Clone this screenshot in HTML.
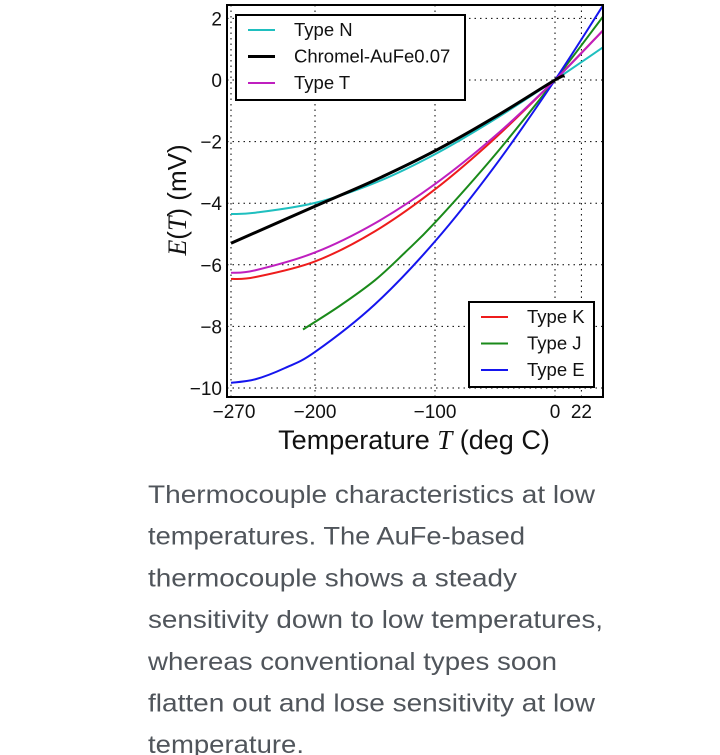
<!DOCTYPE html>
<html><head><meta charset="utf-8"><style>
body{margin:0;background:#fff;width:720px;height:755px;overflow:hidden}
svg{display:block}
text{font-family:"Liberation Sans","DejaVu Sans",sans-serif}
</style></head><body>
<svg id="chart" width="720" height="755" viewBox="0 0 720 755"></svg>
<script>
const xTicks=[-270,-200,-100,0,22];
const xTickLabels=["\u2212270","\u2212200","\u2212100","0","22"];
const yTicks=[2,0,-2,-4,-6,-8,-10];
const yTickLabels=["2","0","\u22122","\u22124","\u22126","\u22128","\u221210"];
const seriesNames=["Type N","Chromel-AuFe0.07","Type T","Type K","Type J","Type E"];
const seriesColors=["#1fbfbf","#000000","#bf1fbf","#ee1c1c","#1a8a1a","#1515ee"];
const tN=[-270,-250,-200,-150,-100,-50,0,40];
const eN=[-4.35,-4.31,-3.99,-3.34,-2.41,-1.27,0,1.06];
const tAu=[-270,-200,-150,-100,-50,0,8];
const eAu=[-5.3,-4.1,-3.25,-2.3,-1.2,0,0.13];
const tT=[-270,-250,-200,-150,-100,-50,0,40];
const eT=[-6.26,-6.18,-5.6,-4.65,-3.38,-1.82,0,1.61];
const tK=[-270,-250,-200,-150,-100,-50,0,40];
const eK=[-6.46,-6.40,-5.89,-4.91,-3.55,-1.89,0,1.61];
const tJ=[-210,-180,-150,-125,-100,-50,0,40];
const eJ=[-8.1,-7.35,-6.5,-5.6,-4.63,-2.43,0,2.06];
const tE=[-270,-250,-225,-200,-150,-100,-50,0,40];
const eE=[-9.83,-9.72,-9.35,-8.83,-7.28,-5.24,-2.79,0,2.42];
const seriesT=[tN,tAu,tT,tK,tJ,tE];
const seriesE=[eN,eAu,eT,eK,eJ,eE];

const svg=document.getElementById('chart');
const NS='http://www.w3.org/2000/svg';
const L=227,R=603,T=5,B=397;
const xs=t=>555+t*1.2;
const ys=e=>80-e*30.8;
function mk(tag,attrs,parent){const el=document.createElementNS(NS,tag);for(const k in attrs)el.setAttribute(k,attrs[k]);(parent||svg).appendChild(el);return el;}
xTicks.forEach((t,i)=>{
 const g=mk('line',{x1:xs(t),x2:xs(t),y1:T,y2:B,stroke:'#000','stroke-width':1,'stroke-dasharray':'1.5,4'});
 
 
 const tk=mk('text',{x:xs(t)+(i==0?3:0),y:B+21,'font-size':19,'text-anchor':'middle',fill:'#111'});
 tk.textContent=xTickLabels[i];
 
 
});
yTicks.forEach((e,i)=>{
 const g=mk('line',{x1:L,x2:R,y1:ys(e),y2:ys(e),stroke:'#000','stroke-width':1,'stroke-dasharray':'1.5,4'});
 
 
 const tk=mk('text',{x:L-5,y:ys(e)+7,'font-size':19,'text-anchor':'end',fill:'#111'});
 tk.textContent=yTickLabels[i];
 
 
});
function path(ts,es){
 const p=ts.map((t,i)=>[xs(t),ys(es[i])]);
 let d='M'+p[0][0]+','+p[0][1];
 for(let i=0;i<p.length-1;i++){
  const p0=p[Math.max(0,i-1)],p1=p[i],p2=p[i+1],p3=p[Math.min(p.length-1,i+2)];
  const c1=[p1[0]+(p2[0]-p0[0])/6,p1[1]+(p2[1]-p0[1])/6];
  const c2=[p2[0]-(p3[0]-p1[0])/6,p2[1]-(p3[1]-p1[1])/6];
  d+=' C'+c1+' '+c2+' '+p2;
 }
 return d;
}
const clip=mk('clipPath',{id:'pc'});mk('rect',{x:L,y:T,width:R-L,height:B-T},clip);
const order=[3,4,5,0,2,1];
order.forEach(i=>{
 const pth=mk('path',{d:path(seriesT[i],seriesE[i]),fill:'none',stroke:seriesColors[i],'stroke-width':i==1?3:2,'clip-path':'url(#pc)'});
 
 
});
const frame=mk('rect',{x:L,y:T,width:R-L,height:B-T,fill:'none',stroke:'#000','stroke-width':2});


function legend(x,y,w,h,idx,name){
 const g=mk('g',{});
 
 
 mk('rect',{x:x,y:y,width:w,height:h,fill:'#fff',stroke:'#000','stroke-width':2},g);
 idx.forEach((s,k)=>{
  const cy=y+15+k*26.5;
  mk('line',{x1:x+12,x2:x+39,y1:cy,y2:cy,stroke:seriesColors[s],'stroke-width':s==1?3:2},g);
  const tx=mk('text',{x:x+58,y:cy+6,'font-size':18.5,fill:'#111'},g);
  tx.textContent=seriesNames[s];
  
  
 });
}
legend(236,15,229,85,[0,1,2],'legend-top');
legend(469,302,125,85,[3,4,5],'legend-bottom');
const xl=mk('text',{x:414,y:449,'font-size':27,'text-anchor':'middle',fill:'#111'});
xl.innerHTML='Temperature <tspan font-family="Liberation Serif" font-style="italic">T</tspan> (deg C)';


const yl=mk('text',{x:0,y:0,'font-size':26,'text-anchor':'middle',fill:'#111',transform:'translate(186,200) rotate(-90)'});
yl.innerHTML='<tspan font-family="Liberation Serif" font-style="italic">E</tspan>(<tspan font-family="Liberation Serif" font-style="italic">T</tspan>) (mV)';


const cap=["Thermocouple characteristics at low","temperatures. The AuFe-based","thermocouple shows a steady","sensitivity down to low temperatures,","whereas conventional types soon","flatten out and lose sensitivity at low","temperature."];
const capW=[447,377,369,455,409,447,156];
cap.forEach((s,i)=>{
 const t=mk('text',{x:148,y:503+i*41.7,'font-size':25,fill:'#50555b',textLength:capW[i],lengthAdjust:'spacingAndGlyphs'});
 t.textContent=s;
 
 
});
</script>
</body></html>
